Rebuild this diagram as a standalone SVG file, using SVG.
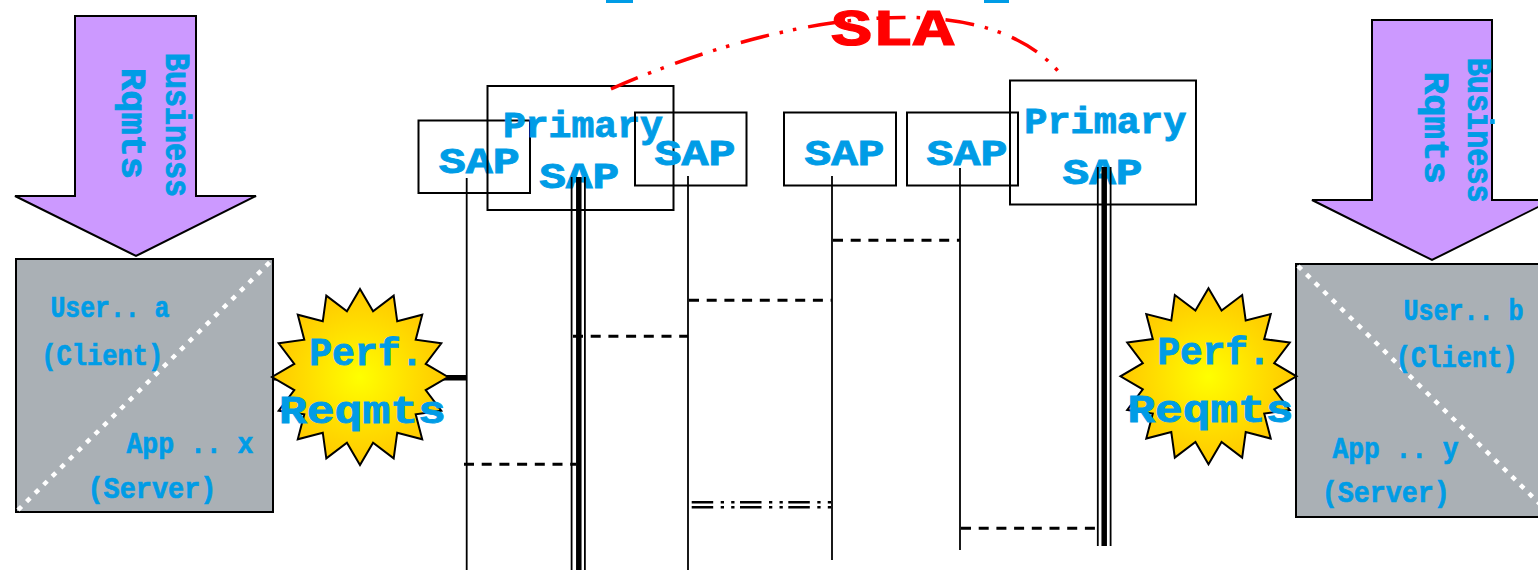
<svg xmlns="http://www.w3.org/2000/svg" width="1538" height="570" viewBox="0 0 1538 570">
  <defs>
    <style>
      .lbl { font-family: "Liberation Mono", "DejaVu Sans Mono", monospace; font-weight: bold; fill: #009CE6; stroke: #009CE6; stroke-width: 0.9; text-anchor: middle; }
      .sap { font-size: 36px; }
      .star-t { font-size: 38px; }
      .host-t { font-size: 30px; stroke-width: 0.7; }
      .vert-t { font-size: 35px; }
      .sla-t { font-family: "Liberation Mono", "DejaVu Sans Mono", monospace; font-weight: bold; font-size: 51px; fill: #FF0000; stroke: #FF0000; stroke-width: 1.2; text-anchor: middle; }
      .box { fill: none; stroke: #000; stroke-width: 2; }
      .arrow { fill: #CC99FF; stroke: #000; stroke-width: 2; stroke-linejoin: miter; }
      .host { fill: #AAB0B5; stroke: #000; stroke-width: 2; }
      .split { stroke: #FFFFFF; stroke-width: 4.5; stroke-dasharray: 5 7; fill: none; }
      .life { stroke: #000; stroke-width: 1.8; fill: none; }
      .thin { stroke: #000; stroke-width: 1.8; fill: none; }
      .thick { stroke: #000; stroke-width: 5.5; fill: none; }
      .msg { stroke: #000; stroke-width: 3; stroke-dasharray: 10 7.7; fill: none; }
      .msg2 { stroke: #000; stroke-width: 2.6; stroke-dasharray: 21.5 7.5 3.3 7.2 3.3 5.5; fill: none; }
      .sla { stroke: #FF0000; stroke-width: 3.5; stroke-dasharray: 29 11 3.5 10 3.5 12; fill: none; }
      .burst { fill: url(#burstFill); stroke: #000; stroke-width: 2; stroke-linejoin: miter; }
    </style>
    <radialGradient id="burstFill" cx="0.5" cy="0.5" r="0.5">
      <stop offset="0" stop-color="#FFFF00"/>
      <stop offset="0.55" stop-color="#FFE000"/>
      <stop offset="1" stop-color="#FFC800"/>
    </radialGradient>
    <!-- 16-point star, outer radius 88, inner radius 67 -->
    <path id="star16" d="M0,-88 L13.07,-65.71 L33.68,-81.3 L37.22,-55.71 L62.23,-62.23 L55.71,-37.22 L81.3,-33.68 L65.71,-13.07 L88,0 L65.71,13.07 L81.3,33.68 L55.71,37.22 L62.23,62.23 L37.22,55.71 L33.68,81.3 L13.07,65.71 L0,88 L-13.07,65.71 L-33.68,81.3 L-37.22,55.71 L-62.23,62.23 L-55.71,37.22 L-81.3,33.68 L-65.71,13.07 L-88,0 L-65.71,-13.07 L-81.3,-33.68 L-55.71,-37.22 L-62.23,-62.23 L-37.22,-55.71 L-33.68,-81.3 L-13.07,-65.71 Z"/>
  </defs>

  <rect x="0" y="0" width="1538" height="570" fill="#FFFFFF"/>

  <!-- clipped title fragments at the top edge -->
  <rect x="606" y="0" width="27" height="3" fill="#009CE6"/>
  <rect x="984" y="0" width="25" height="3" fill="#009CE6"/>

  <!-- service access points -->
  <g id="sap-1">
    <rect class="box" x="418.5" y="120.5" width="111.5" height="72.5"/>
    <text class="lbl sap" x="479.2" y="173.3" textLength="81" lengthAdjust="spacingAndGlyphs">SAP</text>
  </g>
  <g id="primary-sap-left">
    <rect class="box" x="487.5" y="86" width="186" height="124"/>
    <text class="lbl sap" x="582.9" y="137.3" textLength="160" lengthAdjust="spacingAndGlyphs">Primary</text>
    <text class="lbl sap" x="579.2" y="188.3" textLength="80" lengthAdjust="spacingAndGlyphs">SAP</text>
  </g>
  <g id="sap-2">
    <rect class="box" x="635" y="112.5" width="111.5" height="73"/>
    <text class="lbl sap" x="695" y="165" textLength="81" lengthAdjust="spacingAndGlyphs">SAP</text>
  </g>
  <g id="sap-3">
    <rect class="box" x="784" y="112.5" width="112" height="73"/>
    <text class="lbl sap" x="844.5" y="165" textLength="80" lengthAdjust="spacingAndGlyphs">SAP</text>
  </g>
  <g id="sap-4">
    <rect class="box" x="907" y="112.5" width="111" height="73"/>
    <text class="lbl sap" x="967" y="165" textLength="81" lengthAdjust="spacingAndGlyphs">SAP</text>
  </g>
  <g id="primary-sap-right">
    <rect class="box" x="1010" y="80.5" width="186" height="124"/>
    <text class="lbl sap" x="1105.3" y="132.7" textLength="162" lengthAdjust="spacingAndGlyphs">Primary</text>
    <text class="lbl sap" x="1102.5" y="184.3" textLength="80" lengthAdjust="spacingAndGlyphs">SAP</text>
  </g>

  <g id="connectors">
    <!-- lifelines -->
    <line class="life" x1="466.7" y1="178" x2="466.7" y2="570"/>
    <line class="life" x1="688" y1="176" x2="688" y2="570"/>
    <line class="life" x1="832" y1="176" x2="832" y2="560"/>
    <line class="life" x1="960" y1="168" x2="960" y2="550"/>
    <!-- primary trunks: thin / thick / thin -->
    <line class="thin" x1="571.6" y1="177" x2="571.6" y2="570"/>
    <line class="thick" x1="578.8" y1="177" x2="578.8" y2="570"/>
    <line class="thin" x1="584.9" y1="177" x2="584.9" y2="570"/>
    <line class="thin" x1="1097.8" y1="167" x2="1097.8" y2="546"/>
    <line class="thick" x1="1104.2" y1="167" x2="1104.2" y2="546"/>
    <line class="thin" x1="1110.6" y1="167" x2="1110.6" y2="546"/>
    <!-- client link into the first lifeline -->
    <line class="thick" x1="273" y1="377.8" x2="467" y2="377.8"/>
    <!-- dashed exchanges -->
    <line class="msg" x1="833" y1="240.3" x2="960" y2="240.3"/>
    <line class="msg" x1="689" y1="300.3" x2="832" y2="300.3"/>
    <line class="msg" x1="573" y1="336.3" x2="688" y2="336.3"/>
    <line class="msg" x1="464" y1="464.3" x2="576" y2="464.3"/>
    <line class="msg" x1="961" y1="528.3" x2="1097" y2="528.3"/>
    <line class="msg2" x1="691.7" y1="502.3" x2="831.7" y2="502.3"/>
    <line class="msg2" x1="691.7" y1="507.3" x2="831.7" y2="507.3"/>
    <!-- SLA arc between the primary access points -->
    <path class="sla" d="M611,89 C791,10 995,-18 1065,80"/>
  </g>

  <g id="sla">
    <text class="sla-t" x="892.5" y="45" textLength="123" lengthAdjust="spacingAndGlyphs">SLA</text>
  </g>

  <!-- left side -->
  <g id="business-left">
    <polygon class="arrow" points="75,16 196,16 196,196 256,196 136,256 15,196 75,196"/>
    <text class="lbl vert-t" transform="translate(166,125) rotate(90)" x="0" y="0" textLength="144" lengthAdjust="spacingAndGlyphs">Business</text>
    <text class="lbl vert-t" transform="translate(121.7,123.5) rotate(90)" x="0" y="0" textLength="111" lengthAdjust="spacingAndGlyphs">Rqmts</text>
  </g>
  <g id="host-left">
    <rect class="host" x="16" y="259" width="257" height="253"/>
    <line class="split" x1="18" y1="510" x2="271" y2="261"/>
    <text class="lbl host-t" x="110" y="316.7" textLength="119" lengthAdjust="spacingAndGlyphs">User.. a</text>
    <text class="lbl host-t" x="102.2" y="365" textLength="122" lengthAdjust="spacingAndGlyphs">(Client)</text>
    <text class="lbl host-t" x="189.9" y="453.3" textLength="127" lengthAdjust="spacingAndGlyphs">App .. x</text>
    <text class="lbl host-t" x="152" y="498" textLength="129" lengthAdjust="spacingAndGlyphs">(Server)</text>
  </g>
  <g id="perf-left">
    <use href="#star16" class="burst" transform="translate(360,377)"/>
    <text class="lbl star-t" x="366.3" y="365" textLength="114" lengthAdjust="spacingAndGlyphs">Perf.</text>
    <text class="lbl star-t" x="362.4" y="423.3" textLength="167" lengthAdjust="spacingAndGlyphs">Reqmts</text>
  </g>

  <!-- right side -->
  <g id="business-right">
    <polygon class="arrow" points="1372,20 1492,20 1492,200 1552,200 1432,260 1312,200 1372,200"/>
    <text class="lbl vert-t" transform="translate(1468.3,130.2) rotate(90)" x="0" y="0" textLength="145" lengthAdjust="spacingAndGlyphs">Business</text>
    <text class="lbl vert-t" transform="translate(1425,127.8) rotate(90)" x="0" y="0" textLength="112" lengthAdjust="spacingAndGlyphs">Rqmts</text>
  </g>
  <g id="host-right">
    <rect class="host" x="1296" y="264" width="257" height="253"/>
    <line class="split" x1="1298" y1="266" x2="1551" y2="515"/>
    <text class="lbl host-t" x="1463.5" y="320" textLength="120" lengthAdjust="spacingAndGlyphs">User.. b</text>
    <text class="lbl host-t" x="1456.7" y="366.7" textLength="122" lengthAdjust="spacingAndGlyphs">(Client)</text>
    <text class="lbl host-t" x="1395.4" y="458.3" textLength="126" lengthAdjust="spacingAndGlyphs">App .. y</text>
    <text class="lbl host-t" x="1385.8" y="501.7" textLength="128" lengthAdjust="spacingAndGlyphs">(Server)</text>
  </g>
  <g id="perf-right">
    <use href="#star16" class="burst" transform="translate(1208.5,376.3)"/>
    <text class="lbl star-t" x="1214" y="364.3" textLength="113" lengthAdjust="spacingAndGlyphs">Perf.</text>
    <text class="lbl star-t" x="1210.4" y="422.3" textLength="166" lengthAdjust="spacingAndGlyphs">Reqmts</text>
  </g>
</svg>
